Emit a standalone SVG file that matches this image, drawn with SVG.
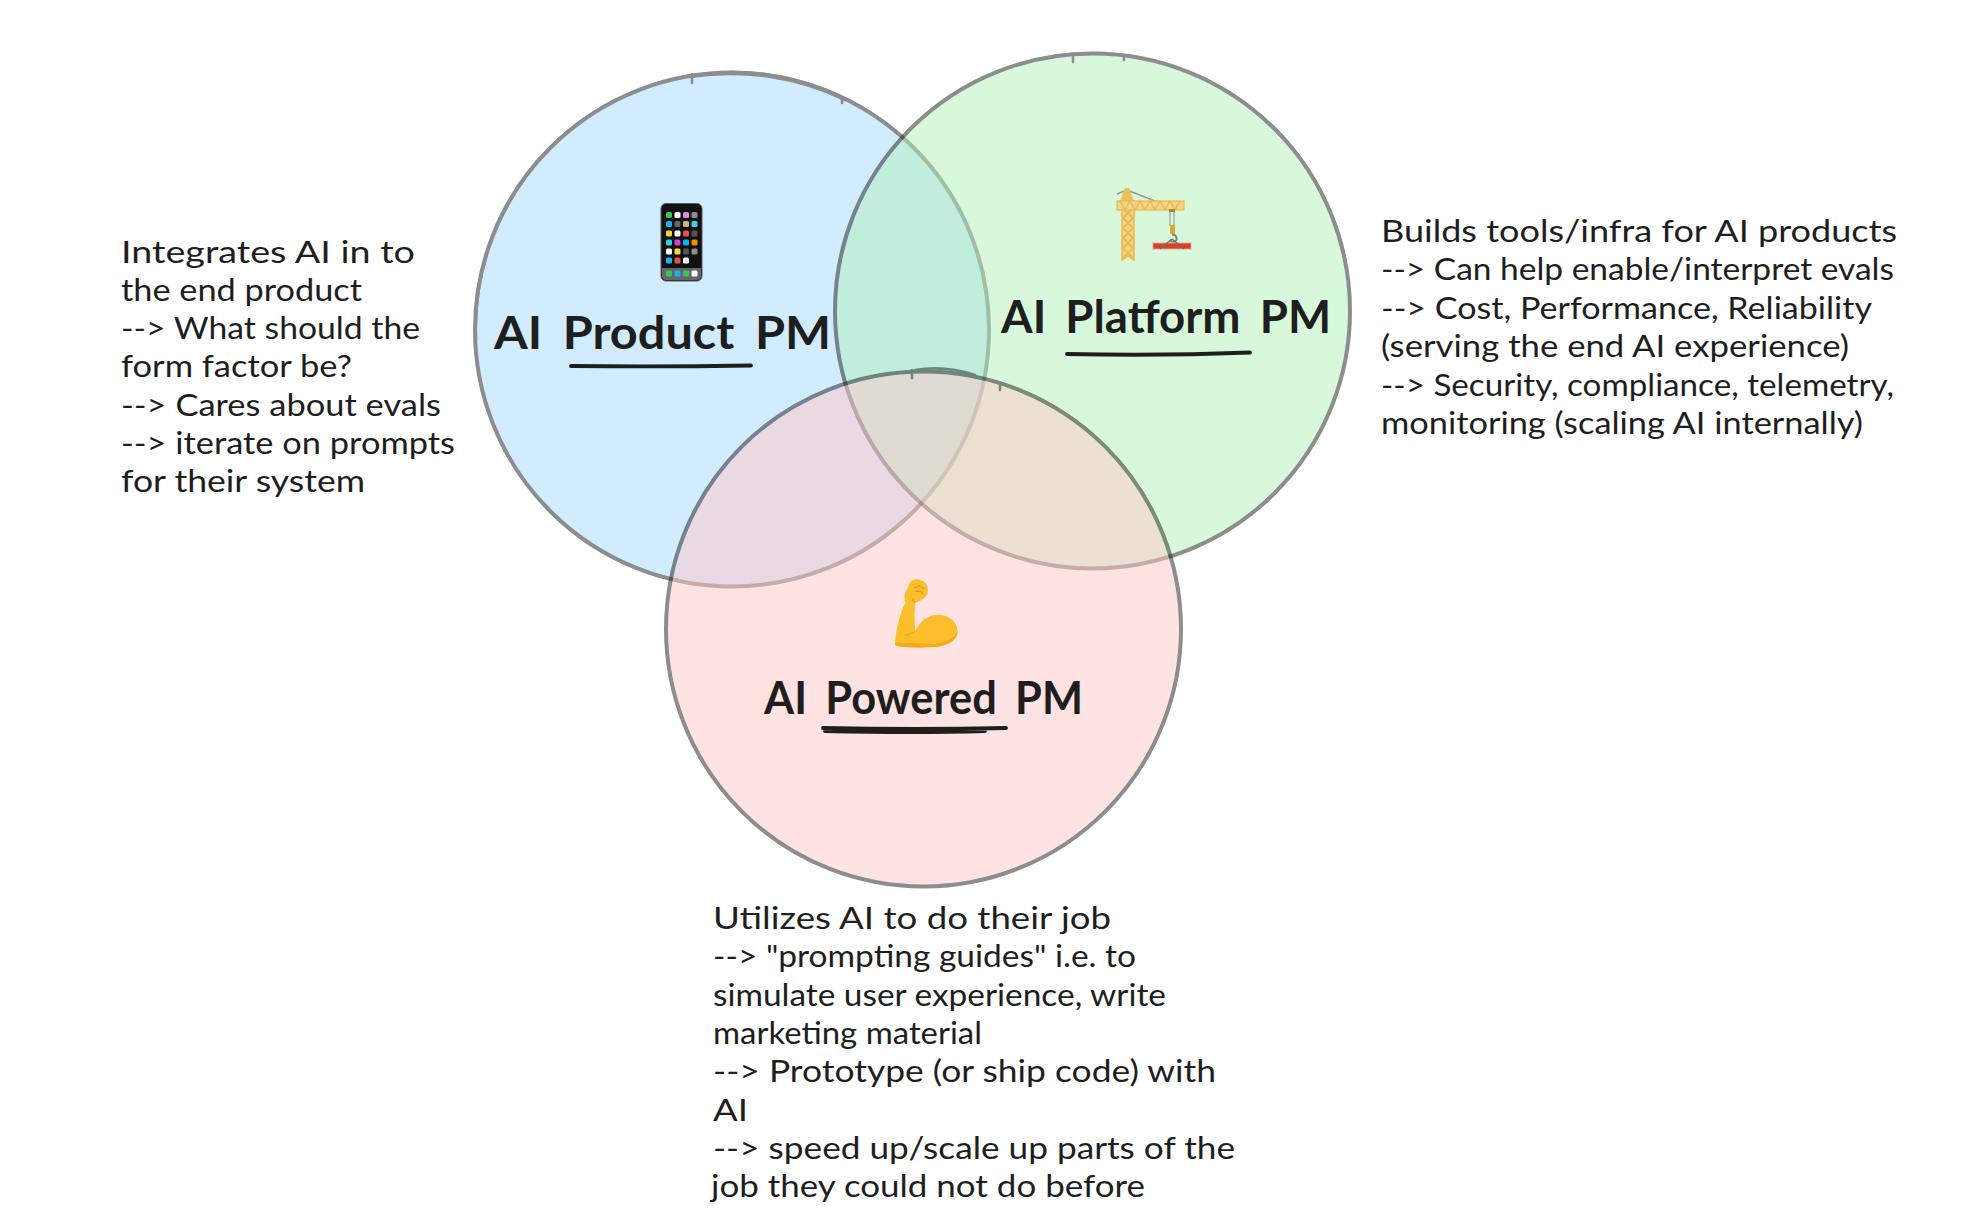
<svg xmlns="http://www.w3.org/2000/svg" width="1966" height="1222" viewBox="0 0 1966 1222">
<style>
.bubble{opacity:.5}
.ring{stroke:#1e1e1e;stroke-width:4;stroke-linecap:round;fill-opacity:1}
.rough{fill:none;stroke:#1e1e1e;stroke-width:2.6;stroke-linecap:round}
.title{font-family:"Lato","Noto Sans",sans-serif;font-weight:700;font-size:45px;fill:#1e1e1e;word-spacing:8px}
.note{font-family:"Lato","Noto Sans",sans-serif;font-size:31px;fill:#1e1e1e}
.ul{fill:none;stroke:#1e1e1e;stroke-width:3.8;stroke-linecap:round}
.app{stroke:none}
</style>
<defs><filter id="soft" x="-10%" y="-10%" width="120%" height="120%"><feGaussianBlur stdDeviation="0.5"/></filter></defs>
<rect width="1966" height="1222" fill="#ffffff"/>

<g id="circle-product" class="bubble">
<circle class="ring" cx="732" cy="329.500" r="257" fill="#a5d8ff"/>
<path class="rough" d="M476 340A257 257 0 0 1 690 75.500M690 75.500A254 254 0 0 1 845 98.500M690 77A264 264 0 0 1 845 100"/>
<path class="rough" d="M692 74V83M842 97V103"/>
</g>
<g id="circle-platform" class="bubble">
<circle class="ring" cx="1092.500" cy="311" r="257.500" fill="#b2f2bb"/>
<path class="rough" d="M1010 67A254 254 0 0 1 1140 57.500M1270 123.500A257 257 0 0 1 1348 279"/>
<path class="rough" d="M1073 54V62M1124 58V60"/>
</g>
<g id="circle-powered" class="bubble">
<circle class="ring" cx="923.500" cy="629" r="257.500" fill="#ffc9c9"/>
<path class="rough" d="M848 383A257 257 0 0 1 1085 428M915 370Q945 365 975 375"/>
<path class="rough" d="M912 370V378M1000 383V390"/>
</g>

<g id="node-product">
<g id="icon-phone">
<rect x="661" y="203.500" width="41" height="77.500" rx="5" fill="#111" stroke="#5a5a5a" stroke-width="1"/>
<path d="M662 268H701V276Q701 280 697 280H666Q662 280 662 276Z" fill="#666"/>
<g class="app">
<rect x="666" y="212" width="6" height="6" rx="1.500" fill="#34c759"/><rect x="674.500" y="212" width="6" height="6" rx="1.500" fill="#fff"/><rect x="683" y="212" width="6" height="6" rx="1.500" fill="#d58be0"/><rect x="691.500" y="212" width="6" height="6" rx="1.500" fill="#8e8e8e"/>
<rect x="666" y="221" width="6" height="6" rx="1.500" fill="#1cb0f6"/><rect x="674.500" y="221" width="6" height="6" rx="1.500" fill="#666"/><rect x="683" y="221" width="6" height="6" rx="1.500" fill="#c8b08a"/><rect x="691.500" y="221" width="6" height="6" rx="1.500" fill="#3cd0f0"/>
<rect x="666" y="230.500" width="6" height="6" rx="1.500" fill="#f5d73c"/><rect x="674.500" y="230.500" width="6" height="6" rx="1.500" fill="#fff"/><rect x="683" y="230.500" width="6" height="6" rx="1.500" fill="#e8504a"/><rect x="691.500" y="230.500" width="6" height="6" rx="1.500" fill="#555"/>
<rect x="666" y="239.500" width="6" height="6" rx="1.500" fill="#30d0e0"/><rect x="674.500" y="239.500" width="6" height="6" rx="1.500" fill="#d040d8"/><rect x="683" y="239.500" width="6" height="6" rx="1.500" fill="#10b0f8"/><rect x="691.500" y="239.500" width="6" height="6" rx="1.500" fill="#f09000"/>
<rect x="666" y="248.500" width="6" height="6" rx="1.500" fill="#fff"/><rect x="674.500" y="248.500" width="6" height="6" rx="1.500" fill="#f5d73c"/><rect x="683" y="248.500" width="6" height="6" rx="1.500" fill="#555"/><rect x="691.500" y="248.500" width="6" height="6" rx="1.500" fill="#8e8e8e"/>
<rect x="666" y="257.500" width="6" height="6" rx="1.500" fill="#1cb0f6"/><rect x="674.500" y="257.500" width="6" height="6" rx="1.500" fill="#e8504a"/><rect x="683" y="257.500" width="6" height="6" rx="1.500" fill="#fff"/>
<rect x="666" y="270.500" width="6" height="6" rx="1.500" fill="#34c759"/><rect x="674.500" y="270.500" width="6" height="6" rx="1.500" fill="#1cb0f6"/><rect x="683" y="270.500" width="6" height="6" rx="1.500" fill="#34c759"/><rect x="691.500" y="270.500" width="6" height="6" rx="1.500" fill="#fff"/>
</g>
</g>
<text class="title" x="494" y="349" textLength="337" lengthAdjust="spacingAndGlyphs">AI Product PM</text>
<path class="ul" d="M571 366Q660 367 751 365.500"/>
</g>

<g id="node-platform">
<g id="icon-crane" filter="url(#soft)">
<path d="M1127 190L1117 194M1127 190L1170 207" fill="none" stroke="#9a9a90" stroke-width="1.500"/>
<path d="M1125 188H1129L1134 201H1120Z" fill="#eebf55"/>
<path d="M1122 201H1134V260L1128 256L1122 260Z" fill="#f3d48a" stroke="#ecb94c" stroke-width="1.500"/>
<path d="M1123 208L1133 218L1123 228L1133 238L1123 248L1133 258M1133 208L1123 218L1133 228L1123 238L1133 248L1123 258" fill="none" stroke="#ecb94c" stroke-width="1.800"/>
<rect x="1117" y="201" width="67" height="9" fill="#f3d48a" stroke="#ecb94c" stroke-width="1.200"/>
<path d="M1120 201L1125 210L1130 201L1135 210L1140 201L1145 210L1150 201L1155 210L1160 201L1165 210L1170 201L1175 210L1180 201" fill="none" stroke="#ecb94c" stroke-width="1.500"/>
<path d="M1170 210V226M1174 210V226" fill="none" stroke="#9aa09a" stroke-width="1.200"/>
<rect x="1169" y="209" width="6" height="3" fill="#a88a35"/>
<rect x="1170" y="225" width="5" height="9" rx="1" fill="#d8a92c"/>
<path d="M1172 235A3.500 3.500 0 1 1 1170 240" fill="none" stroke="#77807f" stroke-width="1.800"/>
<rect x="1153" y="243" width="38" height="6" fill="#d8422c" stroke="#f0a090" stroke-width=".8"/>
<path d="M1172 239L1160 249M1172 239L1184 249" fill="none" stroke="#6b6b60" stroke-width="1.200"/>
</g>
<text class="title" x="1001" y="333" textLength="330" lengthAdjust="spacingAndGlyphs">AI Platform PM</text>
<path class="ul" d="M1067 354Q1160 356 1250 352.500"/>
</g>

<g id="node-powered">
<g id="icon-muscle" transform="translate(870 560) scale(.3333)" filter="url(#soft)">
<path d="M75 250C78 210 88 165 106 128C101 112 104 92 114 84C116 70 124 58 138 58C154 58 170 66 173 82C176 96 172 108 160 116C152 122 144 126 136 128C133 155 133 190 136 214C150 184 172 164 204 164C236 164 263 186 263 214C263 240 232 258 195 261C150 263 110 263 84 259C78 258 75 255 75 250Z" fill="#fcbe2c"/>
<path d="M75 250C110 244 165 254 195 252C228 248 252 234 263 214C263 240 232 258 195 261C150 263 110 263 84 259C78 258 75 255 75 250Z" fill="#f3a91c"/>
<path d="M136 214C128 220 118 224 104 224" fill="none" stroke="#eaa01e" stroke-width="3"/>
<path d="M132 84L148 78L164 86M136 94L152 94L160 102M126 118L136 128" fill="none" stroke="#d79a2a" stroke-width="3.500"/>
</g>
<text class="title" x="764" y="714" textLength="319" lengthAdjust="spacingAndGlyphs">AI Powered PM</text>
<path class="ul" d="M823 728Q915 730 1006 728M825 731Q915 733 985 731"/>
</g>

<g id="note-product" class="note">
<text x="121" y="263" textLength="294" lengthAdjust="spacingAndGlyphs">Integrates AI in to</text>
<text x="121" y="301" textLength="241" lengthAdjust="spacingAndGlyphs">the end product</text>
<text x="121" y="339" textLength="299" lengthAdjust="spacingAndGlyphs">--&gt; What should the</text>
<text x="121" y="377" textLength="231" lengthAdjust="spacingAndGlyphs">form factor be?</text>
<text x="121" y="416" textLength="320" lengthAdjust="spacingAndGlyphs">--&gt; Cares about evals</text>
<text x="121" y="454" textLength="334" lengthAdjust="spacingAndGlyphs">--&gt; iterate on prompts</text>
<text x="121" y="492" textLength="244" lengthAdjust="spacingAndGlyphs">for their system</text>
</g>
<g id="note-platform" class="note">
<text x="1381" y="242" textLength="516" lengthAdjust="spacingAndGlyphs">Builds tools/infra for AI products</text>
<text x="1381" y="280.400" textLength="513" lengthAdjust="spacingAndGlyphs">--&gt; Can help enable/interpret evals</text>
<text x="1381" y="318.800" textLength="491" lengthAdjust="spacingAndGlyphs">--&gt; Cost, Performance, Reliability</text>
<text x="1381" y="357.200" textLength="468" lengthAdjust="spacingAndGlyphs">(serving the end AI experience)</text>
<text x="1381" y="395.600" textLength="513" lengthAdjust="spacingAndGlyphs">--&gt; Security, compliance, telemetry,</text>
<text x="1381" y="434" textLength="482" lengthAdjust="spacingAndGlyphs">monitoring (scaling AI internally)</text>
</g>
<g id="note-powered" class="note">
<text x="713" y="928.500" textLength="398" lengthAdjust="spacingAndGlyphs">Utilizes AI to do their job</text>
<text x="713" y="967" textLength="423" lengthAdjust="spacingAndGlyphs">--&gt; "prompting guides" i.e. to</text>
<text x="713" y="1005.500" textLength="453" lengthAdjust="spacingAndGlyphs">simulate user experience, write</text>
<text x="713" y="1043.800" textLength="269" lengthAdjust="spacingAndGlyphs">marketing material</text>
<text x="713" y="1082" textLength="503" lengthAdjust="spacingAndGlyphs">--&gt; Prototype (or ship code) with</text>
<text x="713" y="1120.500" textLength="35" lengthAdjust="spacingAndGlyphs">AI</text>
<text x="713" y="1159" textLength="522" lengthAdjust="spacingAndGlyphs">--&gt; speed up/scale up parts of the</text>
<text x="711" y="1197" textLength="434" lengthAdjust="spacingAndGlyphs">job they could not do before</text>
</g>
<g id="connectors"/>
</svg>
